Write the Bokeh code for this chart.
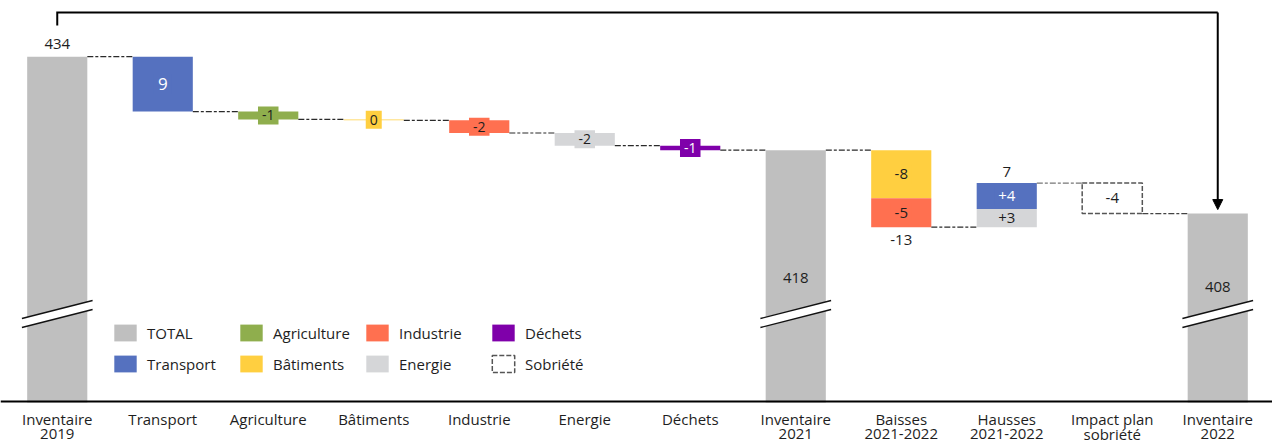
from bokeh.plotting import figure
from bokeh.models import (Range1d, Legend, LegendItem, Arrow, NormalHead, ColumnDataSource)
from bokeh.core.properties import value
from bokeh.embed import file_html
from bokeh.resources import INLINE

# ---------------- data ----------------
categories = ["Inventaire\n2019", "Transport", "Agriculture", "Bâtiments", "Industrie",
              "Energie", "Déchets", "Inventaire\n2021", "Baisses\n2021-2022",
              "Hausses\n2021-2022", "Impact plan\nsobriété", "Inventaire\n2022"]

total_categories = ["Inventaire\n2019", "Inventaire\n2021", "Inventaire\n2022"]
total_values = [434.0, 418.5, 408.0]
total_labels = ["434", "418", "408"]

sectors = ["Transport", "Agriculture", "Bâtiments", "Industrie", "Energie", "Déchets"]
sector_changes = [-9.1, -1.3, -0.15, -2.1, -2.1, -0.75]
sector_labels = ["9", "-1", "0", "-2", "-2", "-1"]

baisses_sectors = ["Bâtiments", "Industrie"]
baisses_values = [-7.95, -4.8]
baisses_labels = ["-8", "-5"]
baisses_total_label = "-13"

hausses_sectors = ["Energie", "Transport"]
hausses_values = [3.0, 4.3]
hausses_labels = ["+3", "+4"]
hausses_total_label = "7"

sobriete_value = -5.05
sobriete_label = "-4"

legend_names = ["TOTAL", "Transport", "Agriculture", "Bâtiments", "Industrie", "Energie", "Déchets", "Sobriété"]

# ---------------- style ----------------
COL = {"TOTAL": "#BFBFBF", "Transport": "#5571BF", "Agriculture": "#8FAE4D", "Bâtiments": "#FFCF40",
       "Industrie": "#FF7050", "Energie": "#D5D6D8", "Déchets": "#7F00AA"}
TXT = {"Transport": "white", "Déchets": "white"}
FONT = "Open Sans"
DARK = "#1E1E1E"

W, H = 1272, 443
PLOT_H = 402            # height of the bar area (baseline at this pixel row)
LABEL_H = H - PLOT_H    # strip for category labels
Y_MIN, Y_MAX = 376.7, 443.3
UNIT_PX = 105.5  # pixels per category slot


def px(n):
    return n * (Y_MAX - Y_MIN) / PLOT_H


BAR_W = 0.57
xpos = {c: i + 0.5 for i, c in enumerate(categories)}
x_start = -4 / UNIT_PX
x_end = x_start + W / UNIT_PX

p = figure(width=W, height=H, x_range=Range1d(x_start, x_end),
           y_range=Range1d(Y_MIN - px(LABEL_H), Y_MAX),
           output_backend="svg", toolbar_location=None, y_axis_location=None, x_axis_location=None,
           min_border_left=0, min_border_right=0, min_border_top=0, min_border_bottom=0)
p.grid.grid_line_color = None
p.outline_line_color = None
p.background_fill_color = "white"

# ---- totals ----
tx = [xpos[c] for c in total_categories]
r_tot = p.vbar(x=tx, top=total_values, bottom=Y_MIN, width=BAR_W, fill_color=COL["TOTAL"], line_color=None)

# ---- sector waterfall 2019 -> 2021 ----
bx, btop, bbot, bcol, bname = [], [], [], [], []
lx, ly, ltxt, lbg, lfg, lsize = [], [], [], [], [], []
seg = []  # x0, x1, y, color
level = total_values[0]
prev_x = xpos[total_categories[0]]
for s, ch, lab in zip(sectors, sector_changes, sector_labels):
    x = xpos[s]
    seg.append((prev_x + BAR_W / 2, x - BAR_W / 2, level, "#2A2A2A"))
    top, bot = level, level + ch
    bx.append(x); btop.append(max(top, bot)); bbot.append(min(top, bot)); bcol.append(COL[s]); bname.append(s)
    lx.append(x); ly.append((top + bot) / 2); ltxt.append(lab); lbg.append(COL[s])
    lfg.append(TXT.get(s, DARK)); lsize.append("17px" if abs(ch) > 5 else "14px")
    level = bot
    prev_x = x
seg.append((prev_x + BAR_W / 2, xpos[total_categories[1]] - BAR_W / 2, level, "#2A2A2A"))

# ---- baisses ----
level = total_values[1]
xb = xpos["Baisses\n2021-2022"]
seg.append((xpos[total_categories[1]] + BAR_W / 2, xb - BAR_W / 2, level, "#2A2A2A"))
for s, ch, lab in zip(baisses_sectors, baisses_values, baisses_labels):
    top, bot = level, level + ch
    bx.append(xb); btop.append(top); bbot.append(bot); bcol.append(COL[s]); bname.append(s)
    lx.append(xb); ly.append((top + bot) / 2); ltxt.append(lab); lbg.append(COL[s])
    lfg.append(TXT.get(s, DARK)); lsize.append("15px")
    level = bot
baisses_bottom = level

# ---- hausses ----
xh = xpos["Hausses\n2021-2022"]
seg.append((xb + BAR_W / 2, xh - BAR_W / 2, level, "#2A2A2A"))
for s, ch, lab in zip(hausses_sectors, hausses_values, hausses_labels):
    bot, top = level, level + ch
    bx.append(xh); btop.append(top); bbot.append(bot); bcol.append(COL[s]); bname.append(s)
    lx.append(xh); ly.append((top + bot) / 2); ltxt.append(lab); lbg.append(COL[s])
    lfg.append(TXT.get(s, DARK)); lsize.append("15px")
    level = top
hausses_top = level

r_bars = p.vbar(x=bx, top=btop, bottom=bbot, width=BAR_W, fill_color=bcol, line_color=None)

# ---- sobriété ----
xs_ = xpos["Impact plan\nsobriété"]
seg.append((xh + BAR_W / 2, xs_ - BAR_W / 2, level, "#777777"))
sob_top, sob_bot = level, level + sobriete_value
r_sob = p.quad(left=[xs_ - BAR_W / 2], right=[xs_ + BAR_W / 2], top=[sob_top], bottom=[sob_bot],
               fill_color=None, line_color="#555555", line_dash="5 2", line_width=1.5)
seg.append((xs_ + BAR_W / 2, xpos[total_categories[2]] - BAR_W / 2, sob_bot, "#444444"))

# ---- connectors ----
p.segment(x0=[s_[0] for s_ in seg], x1=[s_[1] for s_ in seg], y0=[s_[2] for s_ in seg],
          y1=[s_[2] for s_ in seg], line_color=[s_[3] for s_ in seg], line_width=1.2,
          line_dash="6 2 3 2")

# ---- break marks ----
BW = 0.335
bxs, bys, l1x, l1y = [], [], [], []
for x in tx:
    ul, ur, ll, lr = Y_MIN + px(84), Y_MIN + px(102), Y_MIN + px(75), Y_MIN + px(93)
    bxs.append([x - BW, x + BW, x + BW, x - BW]); bys.append([ul, ur, lr, ll])
    l1x += [[x - BW, x + BW], [x - BW, x + BW]]; l1y += [[ul, ur], [ll, lr]]
p.patches(xs=bxs, ys=bys, fill_color="white", line_color=None)
p.multi_line(xs=l1x, ys=l1y, line_color="#111111", line_width=1.3)

# ---- baseline (axis line) ----
p.line(x=[x_start, x_end], y=[Y_MIN + px(1), Y_MIN + px(1)], line_color="black", line_width=2)

# ---- delta labels ----
src = ColumnDataSource(dict(x=lx, y=ly, t=ltxt, bg=lbg, fg=lfg, fs=lsize))
p.text(x="x", y="y", text="t", source=src, text_align="center", text_baseline="middle",
       text_color="fg", text_font_size="fs", text_font=value(FONT),
       background_fill_color="bg", padding=4)
p.text(x=[xs_], y=[(sob_top + sob_bot) / 2], text=[sobriete_label], text_align="center",
       text_baseline="middle", text_color=DARK, text_font_size="15px", text_font=value(FONT))
p.text(x=[xb], y=[baisses_bottom - px(13)], text=[baisses_total_label], text_align="center",
       text_baseline="middle", text_color=DARK, text_font_size="15px", text_font=value(FONT))
p.text(x=[xh], y=[hausses_top + px(11)], text=[hausses_total_label], text_align="center",
       text_baseline="middle", text_color=DARK, text_font_size="15px", text_font=value(FONT))

# ---- total labels ----
total_label_y = [total_values[0] + px(13), Y_MIN + px(125), Y_MIN + px(116)]
p.text(x=tx, y=total_label_y, text=total_labels, text_align="center", text_baseline="middle",
       text_color=DARK, text_font_size="15px", text_font=value(FONT))

# ---- arrow ----
y_top = Y_MAX - px(12)
p.line(x=[tx[0], tx[0], tx[2]], y=[Y_MAX - px(25), y_top, y_top], line_color="black",
       line_width=2, line_join="miter")
p.add_layout(Arrow(end=NormalHead(size=10, fill_color="black", line_color="black"),
                   x_start=tx[2], y_start=y_top, x_end=tx[2], y_end=total_values[2] + px(4),
                   line_color="black", line_width=2))

# ---- legend ----
items = []
for name in legend_names:
    if name == "TOTAL":
        items.append(LegendItem(label=name, renderers=[r_tot], index=0))
    elif name == "Sobriété":
        items.append(LegendItem(label=name, renderers=[r_sob], index=0))
    else:
        items.append(LegendItem(label=name, renderers=[r_bars], index=bname.index(name)))
legend = Legend(items=items, orientation="vertical", nrows=2, location=(111, 28 + LABEL_H),
                glyph_width=28, glyph_height=21, label_standoff=8, spacing=10, padding=0, margin=0,
                border_line_color=None, background_fill_alpha=0, label_text_font=FONT,
                label_text_font_size="15px", label_height=21, label_width=80, label_text_color=DARK)
p.add_layout(legend)

# ---- category labels (two lines under the baseline) ----
line1 = [c.split("\n")[0] for c in categories]
line2 = [c.split("\n")[1] if "\n" in c else "" for c in categories]
cx = [xpos[c] for c in categories]
p.text(x=cx, y=[Y_MIN - px(16)] * len(cx), text=line1, text_align="center", text_baseline="middle",
       text_font=value(FONT), text_font_size="15px", text_color=DARK)
p.text(x=cx, y=[Y_MIN - px(31)] * len(cx), text=line2, text_align="center", text_baseline="middle",
       text_font=value(FONT), text_font_size="15px", text_color=DARK)

open("out.html", "w").write(file_html(p, INLINE))
